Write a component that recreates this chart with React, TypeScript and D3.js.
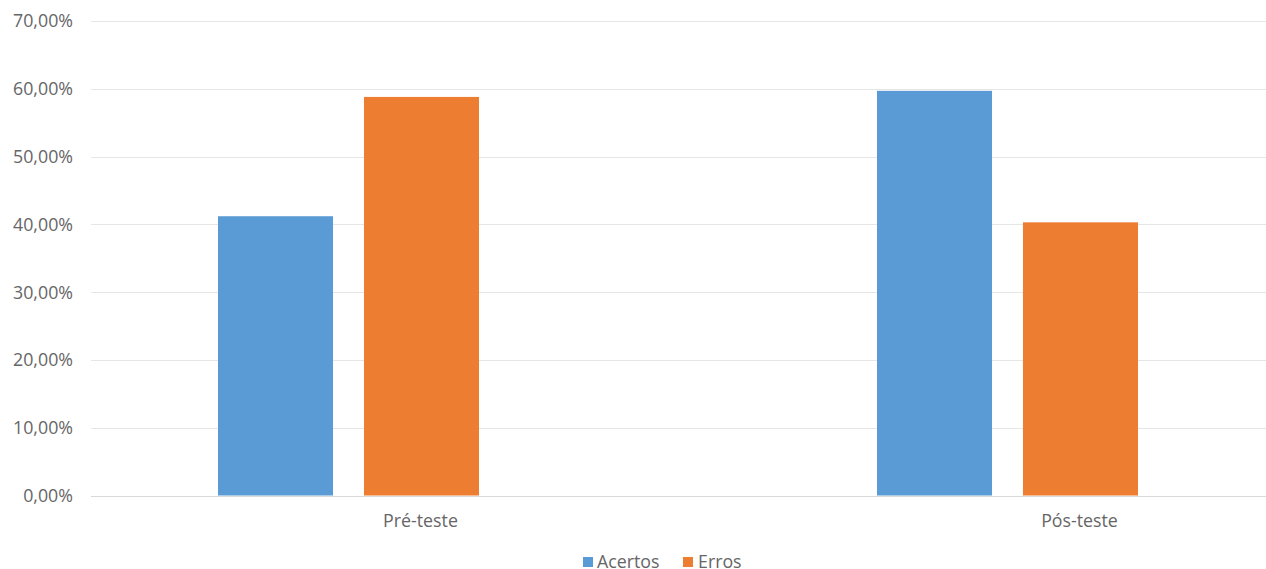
import React from "react";
import * as d3 from "d3";

const categories = ["Pré-teste", "Pós-teste"];
const seriesNames = ["Acertos", "Erros"];
const acertos = [41.2, 59.7];
const erros = [58.8, 40.3];
const yTicks = [0, 10, 20, 30, 40, 50, 60, 70];
const colors = ["#5B9BD5", "#ED7D31"];

const W = 1266;
const H = 569;
const FONT = "'Open Sans', 'Segoe UI', sans-serif";

export default function App() {
  const plotLeft = 91;
  const plotTop = 21;
  const plotBottom = 495.5;
  const y = d3.scaleLinear().domain([0, 70]).range([plotBottom, plotTop]);
  const x = d3.scaleBand<string>().domain(categories).range([plotLeft, plotLeft + 659 * 2]).padding(0);
  const inner = d3.scaleBand<string>().domain(seriesNames).range([127, 388]).paddingInner(0.212).paddingOuter(0);
  const values = [acertos, erros];
  const fmt = (v: number) => v.toFixed(2).replace(".", ",") + "%";

  return (
    <div style={{ position: "absolute", left: 0, top: 0 }}>
      <svg width={W} height={H} style={{ display: "block", background: "#fff" }}>
        {yTicks.map((t) => (
          <g key={t}>
            <line x1={plotLeft} x2={W} y1={Math.round(y(t)) + 0.5} y2={Math.round(y(t)) + 0.5}
              stroke={t === 0 ? "#d9d9d9" : "#e6e6e6"} strokeWidth={1} />
            <text x={73} y={y(t)} dy="0.36em" textAnchor="end" fontFamily={FONT} fontSize={17.8} fill="#666666">
              {fmt(t)}
            </text>
          </g>
        ))}
        {categories.map((c, ci) =>
          seriesNames.map((s, si) => {
            const v = values[si][ci];
            const bx = (x(c) as number) + (inner(s) as number);
            return (
              <rect key={c + s} x={bx} y={y(v)} width={inner.bandwidth()} height={y(0) - y(v)} fill={colors[si]} />
            );
          })
        )}
        {categories.map((c) => (
          <text key={c} x={(x(c) as number) + x.bandwidth() / 2} y={527} textAnchor="middle"
            fontFamily={FONT} fontSize={17.8} fill="#666666">
            {c}
          </text>
        ))}
        <g>
          <rect x={583} y={557} width={10} height={10} fill={colors[0]} />
          <text x={597} y={568} fontFamily={FONT} fontSize={17.8} fill="#666666">{seriesNames[0]}</text>
          <rect x={683} y={557} width={10} height={10} fill={colors[1]} />
          <text x={698} y={568} fontFamily={FONT} fontSize={17.8} fill="#666666">{seriesNames[1]}</text>
        </g>
      </svg>
    </div>
  );
}
